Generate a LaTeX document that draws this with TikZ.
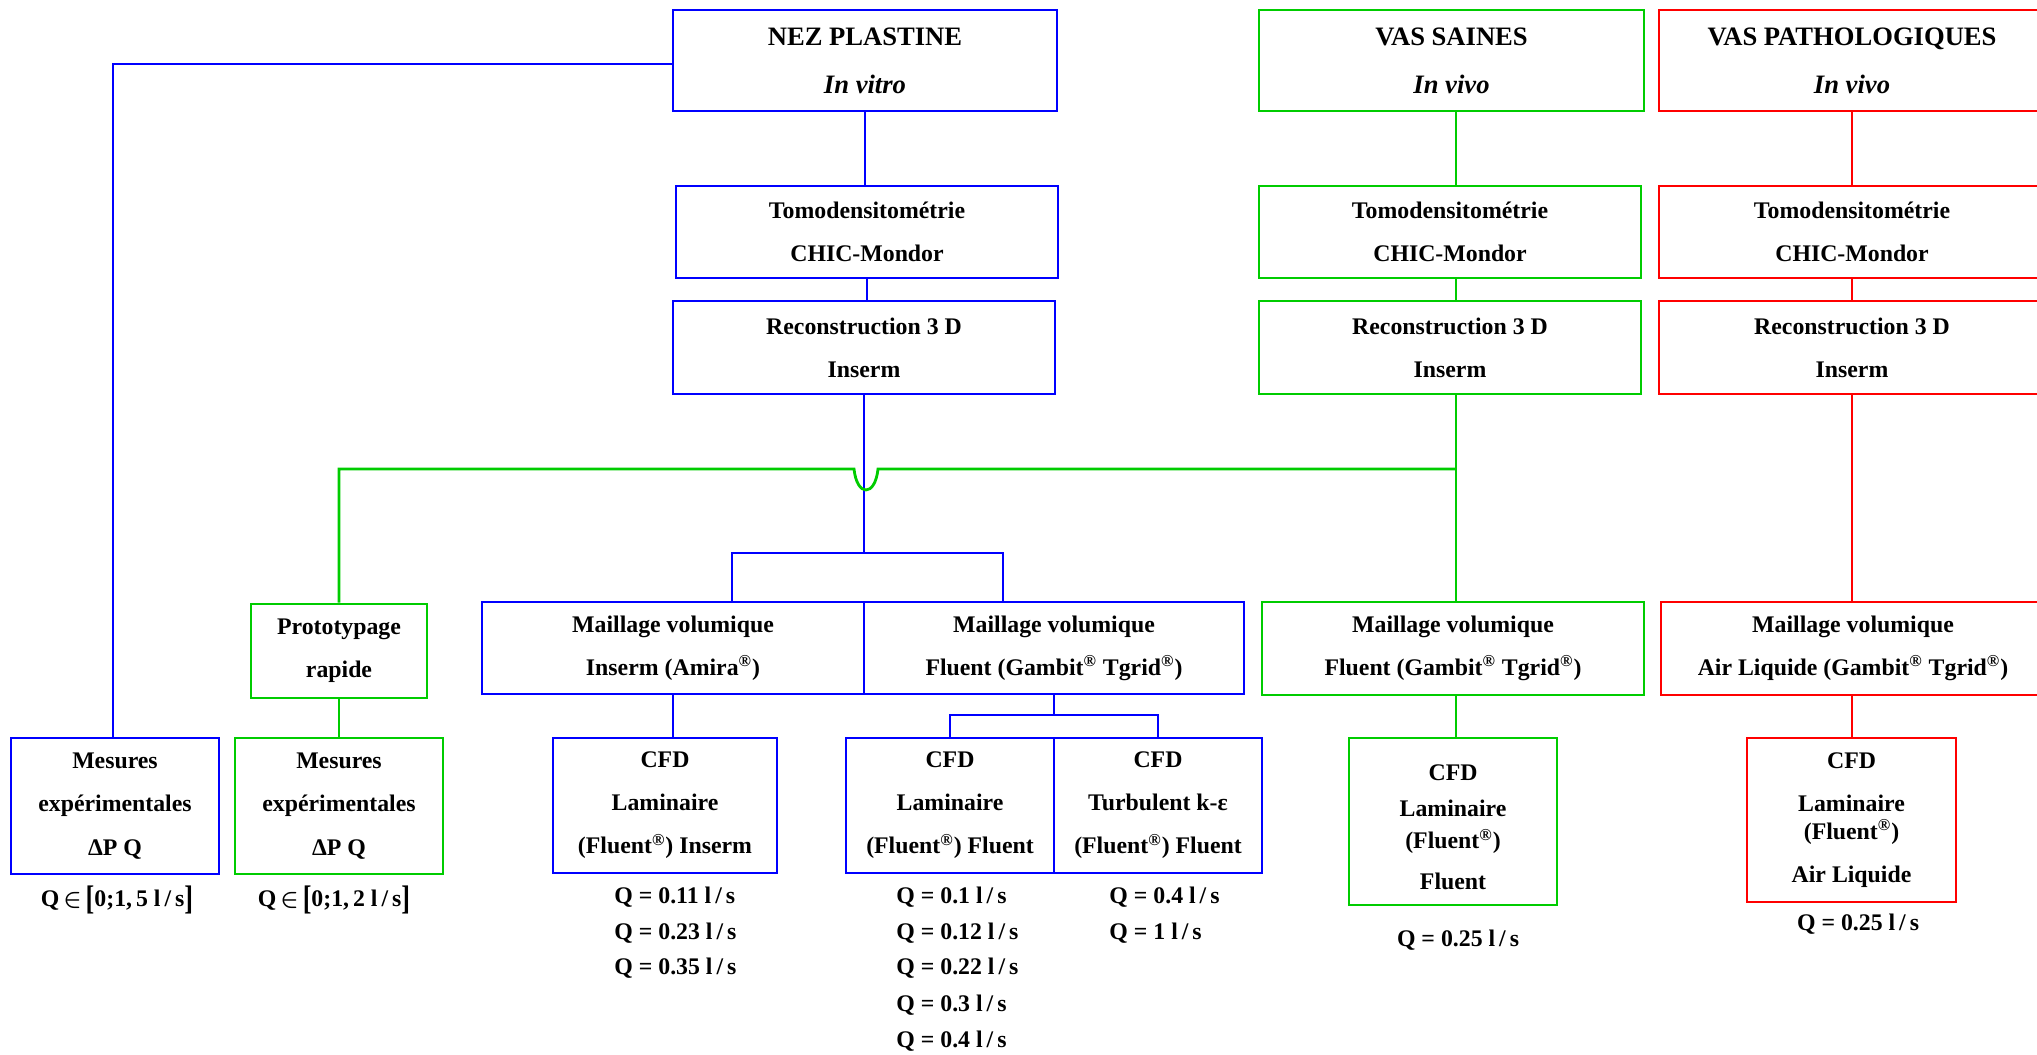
\documentclass[tikz,border=0pt]{standalone}
\usepackage{fontspec}
\setmainfont{Liberation Serif}
\definecolor{cB}{RGB}{0,0,255}
\definecolor{cG}{RGB}{0,204,0}
\definecolor{cR}{RGB}{255,0,0}
\newcommand{\rg}{\textsuperscript{®}}
\newcommand{\bigbrL}{\raisebox{-0.12em}{\scalebox{1.1}[1.43]{[}}}
\newcommand{\bigbrR}{\raisebox{-0.12em}{\scalebox{1.1}[1.43]{]}}}
\tikzset{
  boxst/.style={rectangle, line width=1.4pt, inner sep=0pt, align=center,
    font=\bfseries\fontsize{11.9}{21.5}\selectfont},
  topst/.style={font=\bfseries\fontsize{13.3}{24}\selectfont},
  ln/.style={line width=1.4pt},
  qlab/.style={font=\bfseries\boldmath\fontsize{11.9}{14}\selectfont, inner sep=0pt}
}
% \bx[opts]{name}{x1}{y1}{x2}{y2}{colour}{text}
\newcommand{\bx}[8][]{%
  \node[boxst, draw=#7, minimum width={(#5-#3)*0.5pt}, minimum height={(#6-#4)*0.5pt}, #1]
    (#2) at ({(#3+#5)/2},{(#4+#6)/2}) {#8};}
\begin{document}
\begin{tikzpicture}[x=0.5pt,y=-0.5pt]
\useasboundingbox (0,0) rectangle (2037,1054);
\clip (0,0) rectangle (2037,1054);

% ---- top row
\bx[topst]{nez}{673}{10}{1057}{111}{cB}{NEZ PLASTINE\\\textit{In vitro}}
\bx[topst]{vasS}{1259}{10}{1644}{111}{cG}{VAS SAINES\\\textit{In vivo}}
\bx[topst]{vasP}{1659}{10}{2045}{111}{cR}{VAS PATHOLOGIQUES\\\textit{In vivo}}
% ---- second row
\bx{tomoB}{676}{186}{1058}{278}{cB}{Tomodensitométrie\\CHIC-Mondor}
\bx{tomoG}{1259}{186}{1641}{278}{cG}{Tomodensitométrie\\CHIC-Mondor}
\bx{tomoR}{1659}{186}{2045}{278}{cR}{Tomodensitométrie\\CHIC-Mondor}
% ---- third row
\bx{reconB}{673}{301}{1055}{394}{cB}{Reconstruction 3 D\\Inserm}
\bx{reconG}{1259}{301}{1641}{394}{cG}{Reconstruction 3 D\\Inserm}
\bx{reconR}{1659}{301}{2045}{394}{cR}{Reconstruction 3 D\\Inserm}
% ---- fourth row
\bx{proto}{251}{604}{427}{698}{cG}{Prototypage\\rapide}
\bx{mailL}{482}{602}{864}{694}{cB}{Maillage volumique\\Inserm (Amira\rg)}
\bx{mailR}{864}{602}{1244}{694}{cB}{Maillage volumique\\Fluent (Gambit\rg{} Tgrid\rg)}
\bx{mailG}{1262}{602}{1644}{695}{cG}{Maillage volumique\\Fluent (Gambit\rg{} Tgrid\rg)}
\bx{mailRd}{1661}{602}{2045}{695}{cR}{Maillage volumique\\Air Liquide (Gambit\rg{} Tgrid\rg)}
% ---- fifth row
\bx[font=\bfseries\fontsize{11.9}{21.75}\selectfont]{mesB}{11}{738}{219}{874}{cB}{Mesures\\expérimentales\\ΔP Q}
\bx[font=\bfseries\fontsize{11.9}{21.75}\selectfont]{mesG}{235}{738}{443}{874}{cG}{Mesures\\expérimentales\\ΔP Q}
\bx{cfdA}{553}{738}{777}{873}{cB}{CFD\\Laminaire\\(Fluent\rg) Inserm}
\bx{cfdB}{846}{738}{1054}{873}{cB}{CFD\\Laminaire\\(Fluent\rg) Fluent}
\bx{cfdC}{1054}{738}{1262}{873}{cB}{CFD\\Turbulent k-ε\\(Fluent\rg) Fluent}
\bx{cfdG}{1349}{738}{1557}{905}{cG}{\rule{0pt}{14pt}CFD\\[-3.5pt]Laminaire\\[-5.5pt](Fluent\rg)\\[-1pt]Fluent}
\bx{cfdR}{1747}{738}{1956}{902}{cR}{CFD\\Laminaire\\[-7.5pt](Fluent\rg)\\Air Liquide}

% ---- junction coordinates
\coordinate (bx) at (113,64);
\coordinate (brL) at (732,553);
\coordinate (brR) at (1003,553);
\coordinate (brC) at (1054,715);
\coordinate (gj) at (1456,469);
\coordinate (hopR) at (878,469);
\coordinate (hopL) at (854,469);
\coordinate (rx) at (1852,400);

% ---- blue connectors
\begin{scope}[ln, draw=cB]
\draw (nez.west |- bx) -- (bx) -- (bx |- mesB.north);
\draw (nez.south) -- (nez.south |- tomoB.north);
\draw (tomoB.south) -- (tomoB.south |- reconB.north);
\draw (reconB.south) -- (reconB.south |- brL);
\draw (brL |- mailL.north) -- (brL) -- (brR) -- (brR |- mailR.north);
\draw (mailL.south) -- (mailL.south |- cfdA.north);
\draw (mailR.south) -- (brC);
\draw (cfdB.north) |- (brC) -| (cfdC.north);
\end{scope}

% ---- green connectors
\begin{scope}[ln, draw=cG]
\draw (vasS.south -| gj) -- (tomoG.north -| gj);
\draw (tomoG.south -| gj) -- (reconG.north -| gj);
\draw (reconG.south -| gj) -- (mailG.north -| gj);
\draw (gj) -- (hopR) .. controls (875,497) and (857,497) .. (hopL) -- (proto.north |- gj) -- (proto.north);
\draw (proto.south) -- (mesG.north);
\draw (mailG.south -| gj) -- (cfdG.north -| gj);
\end{scope}

% ---- red connectors
\begin{scope}[ln, draw=cR]
\draw (vasP.south -| rx) -- (tomoR.north -| rx);
\draw (tomoR.south -| rx) -- (reconR.north -| rx);
\draw (reconR.south -| rx) -- (mailRd.north -| rx);
\draw (mailRd.south -| rx) -- (cfdR.north -| rx);
\end{scope}

% ---- flow-rate labels
\node[qlab] (qm1) at (117,900) {Q\,$\in$\,\bigbrL 0;1,\,5 l\,/\,s\bigbrR};
\node[qlab] (qm2) at (334,900) {Q\,$\in$\,\bigbrL 0;1,\,2 l\,/\,s\bigbrR};
\node[qlab, anchor=west] (qa1) at (614,897) {Q = 0.11 l\,/\,s};
\node[qlab, anchor=west] (qa2) at (614,933) {Q = 0.23 l\,/\,s};
\node[qlab, anchor=west] (qa3) at (614,968) {Q = 0.35 l\,/\,s};
\node[qlab, anchor=west] (qb1) at (896,897) {Q = 0.1 l\,/\,s};
\node[qlab, anchor=west] (qb2) at (896,933) {Q = 0.12 l\,/\,s};
\node[qlab, anchor=west] (qb3) at (896,968) {Q = 0.22 l\,/\,s};
\node[qlab, anchor=west] (qb4) at (896,1005) {Q = 0.3 l\,/\,s};
\node[qlab, anchor=west] (qb5) at (896,1041) {Q = 0.4 l\,/\,s};
\node[qlab, anchor=west] (qc1) at (1109,897) {Q = 0.4 l\,/\,s};
\node[qlab, anchor=west] (qc2) at (1109,933) {Q = 1 l\,/\,s};
\node[qlab] (qg) at (1458,940) {Q = 0.25 l\,/\,s};
\node[qlab] (qr) at (1858,924) {Q = 0.25 l\,/\,s};
\end{tikzpicture}
\end{document}
